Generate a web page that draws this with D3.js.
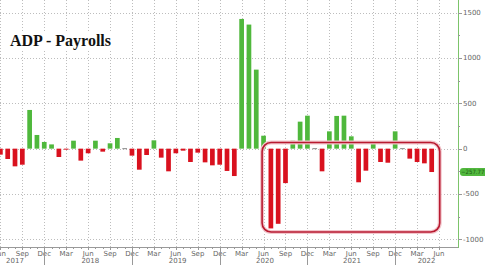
<!DOCTYPE html>
<meta charset="utf-8">
<style>
body { margin: 0; background: #fff; }
svg { display: block; }
.grid line { stroke: #bdbdbd; stroke-dasharray: 1,2; shape-rendering: crispEdges; }
.lbl { font: 7px "DejaVu Sans", sans-serif; fill: #666; }
</style>
<body>
<script src="https://d3js.org/d3.v7.min.js"></script>
<script>

// monthly values, Jun 2017 .. May 2022
var months = ["Jun 2017","Jul 2017","Aug 2017","Sep 2017","Oct 2017","Nov 2017","Dec 2017",
  "Jan 2018","Feb 2018","Mar 2018","Apr 2018","May 2018","Jun 2018","Jul 2018","Aug 2018","Sep 2018","Oct 2018","Nov 2018","Dec 2018",
  "Jan 2019","Feb 2019","Mar 2019","Apr 2019","May 2019","Jun 2019","Jul 2019","Aug 2019","Sep 2019","Oct 2019","Nov 2019","Dec 2019",
  "Jan 2020","Feb 2020","Mar 2020","Apr 2020","May 2020","Jun 2020","Jul 2020","Aug 2020","Sep 2020","Oct 2020","Nov 2020","Dec 2020",
  "Jan 2021","Feb 2021","Mar 2021","Apr 2021","May 2021","Jun 2021","Jul 2021","Aug 2021","Sep 2021","Oct 2021","Nov 2021","Dec 2021",
  "Jan 2022","Feb 2022","Mar 2022","Apr 2022","May 2022"];
var values = [-66,-114,-195,-177,427,151,74,
  47,-92,-11,88,-132,-51,88,-33,59,118,0,-77,
  -232,-70,92,-99,-250,-51,-22,-147,-44,-151,-184,-177,
  -246,-302,1431,1369,872,143,-880,-829,-380,88,298,364,
  0,-250,191,361,364,136,-371,-243,59,-147,-155,191,
  0,-110,-147,-162,-257.77];

var tickLabels = ["Jun","Sep","Dec","Mar"];   // repeats every 3 months
var yearLabels = ["2017","2018","2019","2020","2021","2022"];
var yearPos = [2, 12.3, 24.25, 36.2, 48.1, 58.3];  // in month index
var yearSeps = [6, 18, 30, 42, 54];
var yTicks = [1500, 1000, 500, 0, -500, -1000];
var yMinor = [1250, 750, 250, -250, -750];
var lastValue = -257.77;

var width = 485, height = 265,
    plotRight = 458, axisY = 247;

var svg = d3.select("body").append("svg")
    .attr("width", width)
    .attr("height", height);

var x = d3.scaleLinear().domain([1, 59]).range([7.7, 431.7]);
var y = d3.scaleLinear().domain([-1000, 1500]).range([239.3, 12.7]);
var barW = 4.7;

// grid
var grid = svg.append("g").attr("class", "grid");
grid.selectAll(".hg").data(yTicks).enter().append("line")
    .attr("x1", 0).attr("x2", plotRight)
    .attr("y1", function(d) { return Math.round(y(d)) + 0.5; })
    .attr("y2", function(d) { return Math.round(y(d)) + 0.5; });
var tickIdx = d3.range(0, 61, 3);
grid.selectAll(".vg").data(tickIdx).enter().append("line")
    .attr("y1", 0).attr("y2", axisY)
    .attr("x1", function(d) { return Math.round(x(d)) + 0.5; })
    .attr("x2", function(d) { return Math.round(x(d)) + 0.5; });

// title with white backing
svg.append("rect").attr("x", 8).attr("y", 32).attr("width", 112).attr("height", 18).attr("fill", "#fff");
svg.append("text")
    .attr("x", 10).attr("y", 46)
    .style("font", "bold 16px 'Liberation Serif', 'DejaVu Serif', serif")
    .style("fill", "#111")
    .text("ADP - Payrolls");

// bars
svg.selectAll(".bar").data(values).enter().append("rect")
    .attr("x", function(d, i) { return x(i) - barW / 2; })
    .attr("width", barW)
    .attr("y", function(d) { return d === 0 ? y(0) - 0.5 : Math.min(y(0), y(d)); })
    .attr("height", function(d) { return d === 0 ? 1 : Math.abs(y(d) - y(0)); })
    .attr("fill", function(d) { return d === 0 ? "#888" : (d > 0 ? "#4fb83c" : "#d9111e"); });

// red highlight box (Jul 2020 .. May 2022)
svg.append("rect")
    .attr("x", x(35.8)).attr("y", y(68))
    .attr("width", x(60.1) - x(35.8)).attr("height", y(-920) - y(68))
    .attr("rx", 9).attr("ry", 9)
    .attr("fill", "none")
    .attr("stroke", "#f3c6cc").attr("stroke-width", 4);
svg.append("rect")
    .attr("x", x(35.8)).attr("y", y(68))
    .attr("width", x(60.1) - x(35.8)).attr("height", y(-920) - y(68))
    .attr("rx", 9).attr("ry", 9)
    .attr("fill", "none")
    .attr("stroke", "#b81a30").attr("stroke-width", 1.6);

// x axis
svg.append("line").attr("x1", 0).attr("x2", plotRight)
    .attr("y1", axisY + 0.5).attr("y2", axisY + 0.5)
    .attr("stroke", "#999");
svg.selectAll(".mt").data(d3.range(0, 61)).enter().append("line")
    .attr("x1", function(d) { return Math.round(x(d)) + 0.5; })
    .attr("x2", function(d) { return Math.round(x(d)) + 0.5; })
    .attr("y1", axisY).attr("y2", function(d) { return d % 3 === 0 ? axisY + 3 : axisY + 2; })
    .attr("stroke", "#999");
svg.selectAll(".xl").data(tickIdx).enter().append("text")
    .attr("class", "lbl")
    .attr("x", function(d) { return x(d); })
    .attr("y", 255.5)
    .attr("text-anchor", "middle")
    .text(function(d, i) { return tickLabels[i % 4]; });
svg.selectAll(".ys").data(yearSeps).enter().append("line")
    .attr("x1", function(d) { return Math.round(x(d)) + 0.5; })
    .attr("x2", function(d) { return Math.round(x(d)) + 0.5; })
    .attr("y1", axisY).attr("y2", height)
    .attr("stroke", "#999");
svg.selectAll(".yl").data(yearLabels).enter().append("text")
    .attr("class", "lbl")
    .attr("x", function(d, i) { return x(yearPos[i]); })
    .attr("y", 263)
    .attr("text-anchor", "middle")
    .text(function(d) { return d; });

// right y axis
svg.append("line").attr("x1", plotRight + 0.5).attr("x2", plotRight + 0.5)
    .attr("y1", 0).attr("y2", axisY + 1)
    .attr("stroke", "#7cc46a");
svg.selectAll(".ytk").data(yTicks.concat(yMinor)).enter().append("line")
    .attr("x1", plotRight).attr("x2", function(d) { return d % 500 === 0 ? plotRight + 4 : plotRight + 2; })
    .attr("y1", function(d) { return Math.round(y(d)) + 0.5; })
    .attr("y2", function(d) { return Math.round(y(d)) + 0.5; })
    .attr("stroke", "#999");
svg.selectAll(".yl2").data(yTicks).enter().append("text")
    .attr("class", "lbl")
    .attr("x", 463)
    .attr("y", function(d) { return y(d); })
    .attr("dy", "0.35em")
    .text(function(d) { return d; });

// last value badge
svg.append("rect")
    .attr("x", 460).attr("y", y(lastValue) - 4)
    .attr("width", 30).attr("height", 8)
    .attr("rx", 3)
    .attr("fill", "#52b83e");
svg.append("text")
    .attr("x", 461).attr("y", y(lastValue))
    .attr("dy", "0.35em")
    .style("font", "6px 'DejaVu Sans Condensed', 'DejaVu Sans', sans-serif")
    .style("fill", "#1d5a14")
    .text(d3.format(".2f")(lastValue));

</script>
